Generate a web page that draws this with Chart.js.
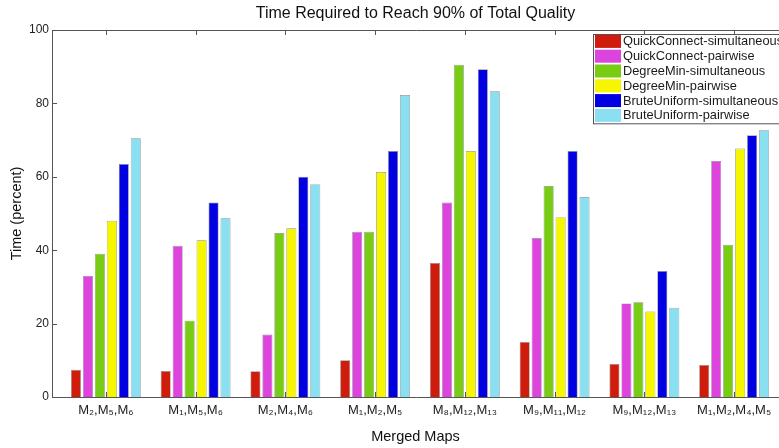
<!DOCTYPE html>
<html>
<head>
<meta charset="utf-8">
<script src="https://cdn.jsdelivr.net/npm/chart.js@4.4.1/dist/chart.umd.min.js"></script>
<style>
  html, body { margin: 0; padding: 0; background: #fff; }
  #wrap { width: 779px; height: 448px; position: relative; }
</style>
</head>
<body>
<div id="wrap"><canvas id="grafico"></canvas></div>
<script>
// rótulos das categorias (subscritos em unicode)
const categorias = ['M₂,M₅,M₆', 'M₁,M₅,M₆', 'M₂,M₄,M₆', 'M₁,M₂,M₅', 'M₈,M₁₂,M₁₃', 'M₉,M₁₁,M₁₂', 'M₉,M₁₂,M₁₃', 'M₁,M₂,M₄,M₅'];

const quickSimult  = [7.4, 7.1, 7.0, 10.0, 36.5, 15.0, 9.0, 8.7];
const quickPair    = [33.0, 41.2, 17.0, 45.0, 53.0, 43.3, 25.5, 64.3];
const degreeSimult = [39.0, 20.8, 44.7, 45.0, 90.5, 57.5, 25.8, 41.5];
const degreePair   = [48.0, 42.7, 46.0, 61.3, 67.0, 49.0, 23.3, 67.7];
const bruteSimult  = [63.5, 53.0, 60.0, 67.0, 89.3, 67.0, 34.3, 71.3];
const brutePair    = [70.5, 48.7, 58.0, 82.3, 83.3, 54.5, 24.3, 72.7];

const yTicks = [0, 20, 40, 60, 80, 100];

const FONTE = '"Liberation Sans", Arial, Helvetica, sans-serif';

function serie(label, valores, cor) {
  return {
    label,
    data: valores.map((v, i) => ({ x: i + 1, y: v })),
    backgroundColor: cor,
    borderColor: 'rgba(0,0,0,0.45)',
    borderWidth: 0.7,
    categoryPercentage: 0.8,
    barPercentage: 0.84
  };
}

const datasets = [
  serie('QuickConnect-simultaneous', quickSimult, '#d01c0c'),
  serie('QuickConnect-pairwise', quickPair, '#dd44dd'),
  serie('DegreeMin-simultaneous', degreeSimult, '#78cc14'),
  serie('DegreeMin-pairwise', degreePair, '#f6f600'),
  serie('BruteUniform-simultaneous', bruteSimult, '#0000e0'),
  serie('BruteUniform-pairwise', brutePair, '#8ae0f0')
];

// moldura + ticks para dentro (estilo matlab); o lado direito fica fora da imagem
const moldura = {
  id: 'moldura',
  afterDatasetsDraw(chart) {
    const { ctx, chartArea: a, scales } = chart;
    ctx.save();
    ctx.strokeStyle = '#555';
    ctx.lineWidth = 1;
    ctx.beginPath();
    ctx.moveTo(a.right + 10, a.top + 0.5);
    ctx.lineTo(a.left + 0.5, a.top + 0.5);
    ctx.lineTo(a.left + 0.5, a.bottom + 0.5);
    ctx.lineTo(a.right + 10, a.bottom + 0.5);
    yTicks.forEach(v => {
      const y = Math.round(scales.y.getPixelForValue(v)) + 0.5;
      ctx.moveTo(a.left, y); ctx.lineTo(a.left + 5, y);
    });
    categorias.forEach((_, i) => {
      const x = Math.round(scales.x.getPixelForValue(i + 1)) + 0.5;
      ctx.moveTo(x, a.top); ctx.lineTo(x, a.top + 5);
      ctx.moveTo(x, a.bottom); ctx.lineTo(x, a.bottom - 5);
    });
    ctx.stroke();
    ctx.restore();
  }
};

// legenda dentro do gráfico, canto superior direito
const legendaBox = {
  id: 'legendaBox',
  afterDraw(chart) {
    const { ctx } = chart;
    const x0 = 593, y0 = 34, linha = 14.8;
    const x1 = 790;
    const h = linha * chart.data.datasets.length + 0.5;
    ctx.save();
    ctx.fillStyle = '#fff';
    ctx.fillRect(x0, y0, x1 - x0, h);
    ctx.strokeStyle = '#555';
    ctx.lineWidth = 1;
    ctx.strokeRect(x0 + 0.5, y0 + 0.5, x1 - x0, h);
    ctx.font = '12.8px ' + FONTE;
    ctx.textBaseline = 'middle';
    chart.data.datasets.forEach((ds, i) => {
      const cy = y0 + 7.4 + i * linha;
      ctx.fillStyle = ds.backgroundColor;
      ctx.fillRect(x0 + 2, cy - 6.5, 26, 13);
      ctx.fillStyle = '#1a1a1a';
      ctx.fillText(ds.label, x0 + 30, cy + 0.5);
    });
    ctx.restore();
  }
};

new Chart(document.getElementById('grafico'), {
  type: 'bar',
  data: { datasets },
  options: {
    responsive: true,
    maintainAspectRatio: false,
    animation: false,
    plugins: {
      legend: { display: false },
      tooltip: { enabled: false },
      title: {
        display: true,
        fullSize: false,
        text: 'Time Required to Reach 90% of Total Quality',
        color: '#111',
        font: { family: FONTE, size: 16, weight: 'normal' },
        padding: { top: 4, bottom: 6.8 }
      }
    },
    scales: {
      x: {
        type: 'linear',
        min: 0.4,
        max: 8.5,
        offset: false,
        grid: { display: false, drawTicks: false },
        border: { display: false },
        afterFit: s => { s.height = 51; },
        afterBuildTicks: s => { s.ticks = categorias.map((_, i) => ({ value: i + 1 })); },
        ticks: {
          autoSkip: false,
          maxRotation: 0,
          padding: 6,
          color: '#222',
          font: { family: FONTE, size: 13 },
          callback: v => categorias[v - 1] || ''
        },
        title: {
          display: true,
          text: 'Merged Maps',
          color: '#111',
          font: { family: FONTE, size: 14.5 },
          padding: { top: 0, bottom: 2.5 }
        }
      },
      y: {
        min: 0,
        max: 100,
        grid: { display: false, drawTicks: false },
        border: { display: false },
        afterFit: s => { s.width = 52; },
        ticks: {
          stepSize: 20,
          padding: 3,
          color: '#222',
          font: { family: FONTE, size: 12 }
        },
        title: {
          display: true,
          text: 'Time (percent)',
          color: '#111',
          font: { family: FONTE, size: 14.5 },
          padding: { top: 8, bottom: 0 }
        }
      }
    }
  },
  plugins: [moldura, legendaBox]
});
</script>
</body>
</html>
